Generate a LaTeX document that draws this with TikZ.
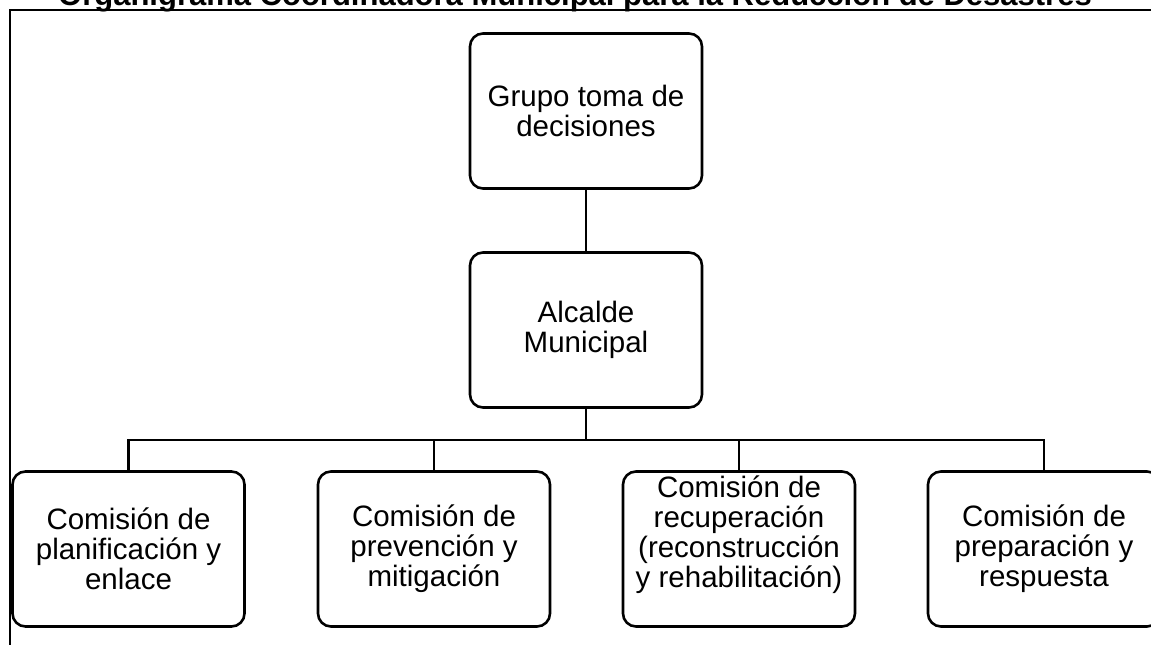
\documentclass[tikz,border=0pt]{standalone}
\usepackage{fontspec}
\setmainfont{Liberation Sans}
\usepackage{tikz}
\usetikzlibrary{positioning}

\begin{document}
\begin{tikzpicture}[x=1pt,y=1pt,
        caja/.style={draw, line width=2.6pt, rounded corners=13pt, minimum width=232pt, minimum height=155pt, align=center, inner sep=2pt, font=\fontsize{29.5}{30}\selectfont},
        linea/.style={line width=2.6pt}]
                \useasboundingbox (0,0) rectangle (1151,645);
                \draw[line width=1.8pt] (10,0) -- (10,635) -- (1160,635);
                \node[anchor=base, font=\fontsize{31}{33}\selectfont\bfseries] (titulo) at (575,639) {Organigrama Coordinadora Municipal para la Reducción de Desastres};
                \node[caja] (grupo) at (586,534) {Grupo toma de\\decisiones};
                \node[caja] (alcalde) at (586,315) {Alcalde\\Municipal};
                \node[caja] (plan) at (128.5,96) {Comisión de\\planificación y\\enlace};
                \node[caja] (prev) at (434,96) {Comisión de\\prevención y\\mitigación};
                \node[caja] (recu) at (739,96) {Comisión de\\recuperación\\(reconstrucción\\y rehabilitación)\\[4pt]\mbox{}};
                \node[caja] (prep) at (1044,96) {Comisión de\\preparación y\\respuesta};
                \coordinate (bus) at (586,205);
                \draw[linea] (grupo) -- (alcalde);
                \draw[linea] (alcalde) -- (bus);
                \foreach \c in {plan,prev,recu,prep}
                    \draw[linea] (bus) -| (\c.north);
            \end{tikzpicture}
\end{document}
